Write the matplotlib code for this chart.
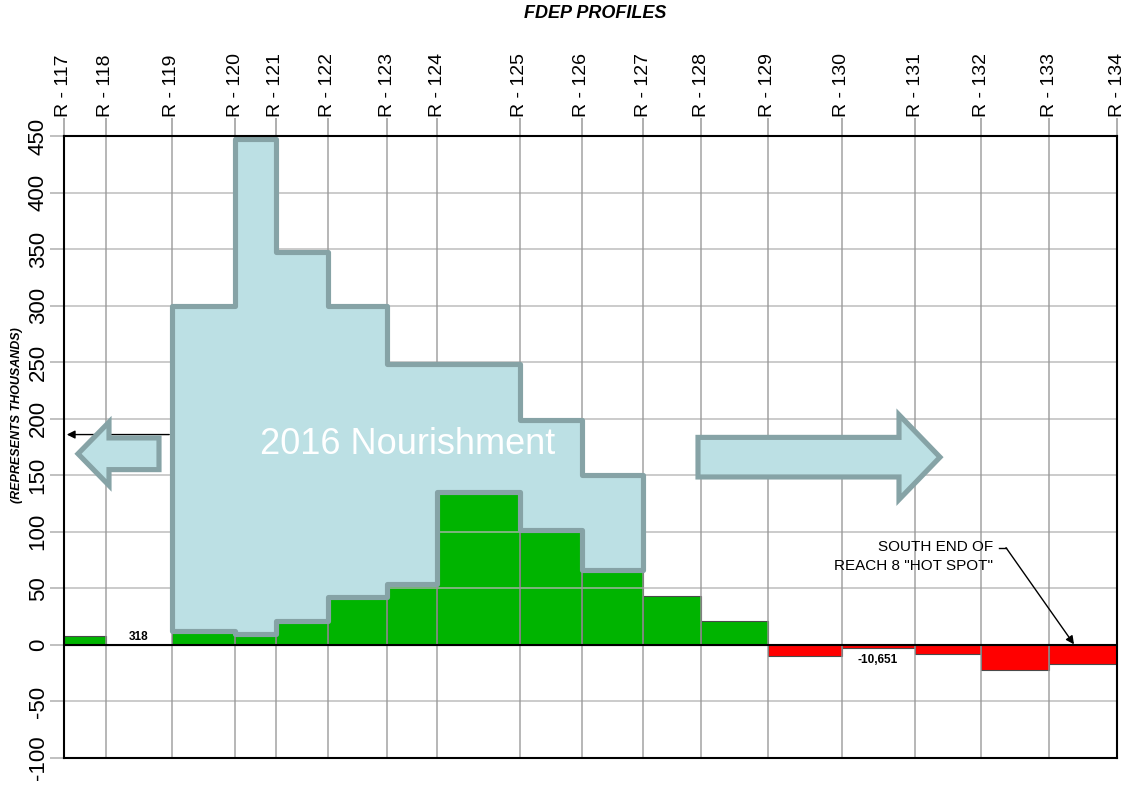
import matplotlib.pyplot as plt
import numpy as np
from matplotlib.patches import Polygon, FancyArrow

plt.rcParams['font.family'] = ['Liberation Sans', 'DejaVu Sans']

# profile stations along the shore (distance units)
profiles = ['R - 117', 'R - 118', 'R - 119', 'R - 120', 'R - 121', 'R - 122',
            'R - 123', 'R - 124', 'R - 125', 'R - 126', 'R - 127', 'R - 128',
            'R - 129', 'R - 130', 'R - 131', 'R - 132', 'R - 133', 'R - 134']
station = [0, 42, 108, 171, 212, 264, 323, 373, 456, 518, 579, 637,
           704, 778, 851, 917, 985, 1053]

# volume change between profiles (thousands)
change = [8, 0.318, 12, 10, 21, 42, 54, 135, 102, 66, 43, 21,
          -10, -3, -8, -22, -17]

# 2016 nourishment outline (R-119 .. R-127), upper edge per cell
nour_start = 2
nour_top = [300, 447, 347, 300, 248, 248, 199, 150]

yticks = [450, 400, 350, 300, 250, 200, 150, 100, 50, 0, -50, -100]

green = '#00b400'
red = '#ff0000'
blue = '#bce0e4'
blue_edge = '#86a3a6'

fig = plt.figure(figsize=(11.34, 8.08), dpi=100)
ax = fig.add_axes([64/1134, 50/808, 1053/1134, 622/808])

x = np.array(station, dtype=float)
left = x[:-1]
width = np.diff(x)
vals = np.array(change)
cols = [green if v >= 0 else red for v in vals]
ax.bar(left, vals, width=width, align='edge', color=cols,
       edgecolor='#4a4a4a', linewidth=0.8, zorder=1)

# grid
for yy in yticks:
    ax.axhline(yy, color='#b4b4b4', lw=1.3, alpha=0.75, zorder=1.5)
for xx in station:
    ax.axvline(xx, color='#999999', lw=1.1, alpha=0.9, zorder=1.5)
ax.axhline(0, color='black', lw=1.5, zorder=3)

# nourishment polygon
n = len(nour_top)
xs = x[nour_start:nour_start + n + 1]
bot = vals[nour_start:nour_start + n]
pts = [(xs[0], bot[0])]
for i in range(n):
    pts.append((xs[i], nour_top[i]))
    pts.append((xs[i + 1], nour_top[i]))
for i in range(n - 1, -1, -1):
    pts.append((xs[i + 1], bot[i]))
    pts.append((xs[i], bot[i]))
poly = Polygon(pts, closed=True, facecolor=blue, edgecolor=blue_edge,
               lw=3.7, joinstyle='round', zorder=2)
ax.add_patch(poly)

ax.text(344, 177, '2016 Nourishment', color='white', fontsize=26,
        ha='center', va='center', zorder=4)

# big arrows
ax.add_patch(FancyArrow(95, 169, -81, 0, width=28, head_width=56,
                        head_length=31, length_includes_head=True,
                        facecolor=blue, edgecolor=blue_edge, lw=3.7, zorder=4))
ax.add_patch(FancyArrow(634, 166, 242, 0, width=35, head_width=75,
                        head_length=41, length_includes_head=True,
                        facecolor=blue, edgecolor=blue_edge, lw=3.7, zorder=4))

# thin leader to axis
ax.annotate('', xy=(0, 186), xytext=(108, 186),
            arrowprops=dict(arrowstyle='-|>', color='black', lw=1,
                            mutation_scale=12), zorder=3)

# labels
ax.text(75, 7, '318', fontsize=8.5, fontweight='bold', ha='center',
        va='center', zorder=4)
ax.text(814, -13, '-10,651', fontsize=8.5, fontweight='bold', ha='center',
        va='center', zorder=4)

ax.text(929, 78, 'SOUTH END OF\nREACH 8 "HOT SPOT"', fontsize=11,
        ha='right', va='center', linespacing=1.4, zorder=4)
ax.plot([935, 942], [86, 86], color='black', lw=1, zorder=4)
ax.annotate('', xy=(1010, 0.5), xytext=(942, 86),
            arrowprops=dict(arrowstyle='-|>', color='black', lw=1,
                            mutation_scale=12, shrinkA=0, shrinkB=0),
            zorder=4)

ax.set_xlim(station[0], station[-1])
ax.set_ylim(-100, 450)

ax.xaxis.tick_top()
ax.set_xticks(station)
ax.set_xticklabels(profiles, rotation=90, fontsize=14)
ax.tick_params(axis='x', length=13, width=1.1, color='#999999', pad=1)

ax.set_yticks(yticks)
ax.set_yticklabels([str(t) for t in yticks], rotation=90, va='center',
                   fontsize=16)
ax.tick_params(axis='y', length=10, width=1.3, color='#bbbbbb', pad=1)

for s in ax.spines.values():
    s.set_color('black')
    s.set_linewidth(1.5)
    s.set_zorder(5)

fig.text(595/1134, 1 - 14/808, 'FDEP PROFILES', fontsize=13,
         fontweight='bold', fontstyle='italic', ha='center', va='center')
fig.text(17/1134, 1 - 415/808, '(REPRESENTS THOUSANDS)', fontsize=9,
         fontweight='bold', fontstyle='italic', rotation=90,
         ha='center', va='center')

fig.savefig('out.png', dpi=100)
